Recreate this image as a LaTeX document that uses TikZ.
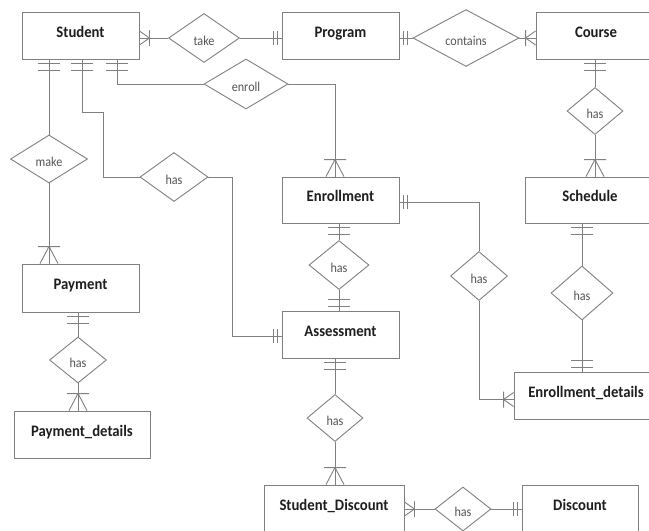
\documentclass[tikz,border=0pt]{standalone}
\usepackage{fontspec}
\setmainfont{Carlito}
\usetikzlibrary{shapes.geometric,arrows.meta}
\definecolor{lncol}{HTML}{808080}
\definecolor{enttext}{HTML}{1E1E1E}
\definecolor{reltext}{HTML}{555555}
% crow's foot with bar, horizontal connectors
\pgfdeclarearrow{
  name=CFh,
  setup code={
    \pgfarrowssettipend{0pt}
    \pgfarrowssetlineend{0pt}
    \pgfarrowssetbackend{-11pt}
    \pgfarrowshullpoint{0pt}{8pt}
    \pgfarrowshullpoint{-11pt}{8pt}
    \pgfarrowshullpoint{-11pt}{-8pt}
    \pgfarrowshullpoint{0pt}{-8pt}
  },
  drawing code={
    \pgfsetroundjoin
    \pgfpathmoveto{\pgfqpoint{0pt}{7pt}}
    \pgfpathlineto{\pgfqpoint{-10pt}{0pt}}
    \pgfpathlineto{\pgfqpoint{0pt}{-7pt}}
    \pgfpathmoveto{\pgfqpoint{-10pt}{8pt}}
    \pgfpathlineto{\pgfqpoint{-10pt}{-8pt}}
    \pgfusepathqstroke
  },
}
% crow's foot with bar, vertical connectors
\pgfdeclarearrow{
  name=CFv,
  setup code={
    \pgfarrowssettipend{0pt}
    \pgfarrowssetlineend{0pt}
    \pgfarrowssetbackend{-18pt}
    \pgfarrowshullpoint{0pt}{11pt}
    \pgfarrowshullpoint{-18pt}{11pt}
    \pgfarrowshullpoint{-18pt}{-11pt}
    \pgfarrowshullpoint{0pt}{-11pt}
  },
  drawing code={
    \pgfsetroundjoin
    \pgfpathmoveto{\pgfqpoint{0pt}{9pt}}
    \pgfpathlineto{\pgfqpoint{-17pt}{0pt}}
    \pgfpathlineto{\pgfqpoint{0pt}{-9pt}}
    \pgfpathmoveto{\pgfqpoint{-17pt}{11pt}}
    \pgfpathlineto{\pgfqpoint{-17pt}{-11pt}}
    \pgfusepathqstroke
  },
}
% double bar, horizontal connectors
\pgfdeclarearrow{
  name=DBh,
  setup code={
    \pgfarrowssettipend{0pt}
    \pgfarrowssetlineend{0pt}
    \pgfarrowssetbackend{-9pt}
    \pgfarrowshullpoint{0pt}{7pt}
    \pgfarrowshullpoint{-9pt}{7pt}
    \pgfarrowshullpoint{-9pt}{-7pt}
    \pgfarrowshullpoint{0pt}{-7pt}
  },
  drawing code={
    \pgfpathmoveto{\pgfqpoint{-4pt}{7pt}}
    \pgfpathlineto{\pgfqpoint{-4pt}{-7pt}}
    \pgfpathmoveto{\pgfqpoint{-8pt}{7pt}}
    \pgfpathlineto{\pgfqpoint{-8pt}{-7pt}}
    \pgfusepathqstroke
  },
}
% double bar, vertical connectors
\pgfdeclarearrow{
  name=DBv,
  setup code={
    \pgfarrowssettipend{0pt}
    \pgfarrowssetlineend{0pt}
    \pgfarrowssetbackend{-12pt}
    \pgfarrowshullpoint{0pt}{11pt}
    \pgfarrowshullpoint{-12pt}{11pt}
    \pgfarrowshullpoint{-12pt}{-11pt}
    \pgfarrowshullpoint{0pt}{-11pt}
  },
  drawing code={
    \pgfpathmoveto{\pgfqpoint{-4pt}{11pt}}
    \pgfpathlineto{\pgfqpoint{-4pt}{-11pt}}
    \pgfpathmoveto{\pgfqpoint{-11pt}{11pt}}
    \pgfpathlineto{\pgfqpoint{-11pt}{-11pt}}
    \pgfusepathqstroke
  },
}
\newcommand{\entfont}{\fontsize{16}{18}\selectfont\bfseries}
\newcommand{\relfont}{\fontsize{13.5}{15}\selectfont}
\tikzset{
  entity/.style={draw=lncol, line width=0.9pt, rectangle, minimum height=47, inner sep=0pt,
    font=\entfont, text=enttext, text height=8pt, text depth=4.7pt},
  rel/.style={draw=lncol, line width=0.9pt, diamond, aspect=1, inner sep=0pt,
    font=\relfont, text=reltext, text height=15.5pt, text depth=0pt},
  conn/.style={draw=lncol, line width=0.9pt},
}
\newcommand{\ent}[1]{\scalebox{0.92}[1]{#1}}
\newcommand{\rl}[1]{\scalebox{0.9}[1]{#1}}
\begin{document}
\begin{tikzpicture}[x=1pt,y=-1pt]
\useasboundingbox (0,0) rectangle (649,531);
\fill[white] (0,0) rectangle (649,531);
\clip (0,0) rectangle (649,531);
% entities
\node[entity, minimum width=117] (student) at (80.5,35.5) {\ent{Student}};
\node[entity, minimum width=117] (program) at (340.5,35.5) {\ent{Program}};
\node[entity, minimum width=120] (course) at (596,35.5) {\ent{Course}};
\node[entity, minimum width=117, minimum height=46] (enrollment) at (340.5,200) {\ent{Enrollment}};
\node[entity, minimum width=130, minimum height=46] (schedule) at (590,200) {\ent{Schedule}};
\node[entity, minimum width=117, minimum height=48] (payment) at (80.5,288) {\ent{Payment}};
\node[entity, minimum width=117] (assessment) at (340.5,334.5) {\ent{Assessment}};
\node[entity, minimum width=136] (paydet) at (82,434.5) {\ent{Payment\_details}};
\node[entity, minimum width=144] (enrdet) at (586,395.5) {\ent{Enrollment\_details}};
\node[entity, minimum width=140] (studisc) at (334,508.5) {\ent{Student\_Discount}};
\node[entity, minimum width=116] (discount) at (580,508.5) {\ent{Discount}};
% relationships
\node[rel, minimum width=71, minimum height=49] (take) at (204,38) {\rl{take}};
\node[rel, minimum width=106, minimum height=48] (contains) at (466,38) {\rl{contains}};
\node[rel, minimum width=84, minimum height=50] (enroll) at (246,84) {\rl{enroll}};
\node[rel, minimum width=77, minimum height=48] (make) at (49,159) {\rl{make}};
\node[rel, minimum width=68, minimum height=49] (hasA) at (174,177) {\rl{has}};
\node[rel, minimum width=56, minimum height=47] (hasB) at (595,111) {\rl{has}};
\node[rel, minimum width=60, minimum height=49] (hasC) at (339,265) {\rl{has}};
\node[rel, minimum width=57, minimum height=49] (hasD) at (479,276) {\rl{has}};
\node[rel, minimum width=62, minimum height=54] (hasE) at (582,293) {\rl{has}};
\node[rel, minimum width=57, minimum height=46] (hasF) at (78,360) {\rl{has}};
\node[rel, minimum width=56, minimum height=47] (hasG) at (335,418) {\rl{has}};
\node[rel, minimum width=56, minimum height=44] (hasH) at (463,509) {\rl{has}};
% bend points
\coordinate (sa1) at (103,112);
\coordinate (sa2) at (232,336);
% connectors
\draw[conn, CFh-] (take.west -| student.east) -- (take.west);
\draw[conn, -DBh] (take.east) -- (take.east -| program.west);
\draw[conn, DBh-] (contains.west -| program.east) -- (contains.west);
\draw[conn, -CFh] (contains.east) -- (contains.east -| course.west);
\draw[conn, DBv-] (make.north |- student.south) -- (make.north);
\draw[conn, -CFv] (make.south) -- (make.south |- payment.north);
\draw[conn, DBv-] ([xshift=1.5pt]student.south) |- (sa1) |- (hasA.west);
\draw[conn, -DBh] (hasA.east) -| (sa2) -- (sa2 -| assessment.west);
\draw[conn, DBv-] ([xshift=36.5pt]student.south) |- (enroll.west);
\draw[conn, -CFv] (enroll.east) -| ([xshift=-5.5pt]enrollment.north);
\draw[conn, DBv-] (hasB.north |- course.south) -- (hasB.north);
\draw[conn, -CFv] (hasB.south) -- (hasB.south |- schedule.north);
\draw[conn, DBv-] (hasC.north |- enrollment.south) -- (hasC.north);
\draw[conn, -DBv] (hasC.south) -- (hasC.south |- assessment.north);
\draw[conn, DBh-] ([yshift=-2pt]enrollment.east) -| (hasD.north);
\draw[conn, -CFh] (hasD.south) |- ([yshift=-4pt]enrdet.west);
\draw[conn, DBv-] (hasE.north |- schedule.south) -- (hasE.north);
\draw[conn, -DBv] (hasE.south) -- (hasE.south |- enrdet.north);
\draw[conn, DBv-] (hasF.north |- payment.south) -- (hasF.north);
\draw[conn, -CFv] (hasF.south) -- (hasF.south |- paydet.north);
\draw[conn, DBv-] (hasG.north |- assessment.south) -- (hasG.north);
\draw[conn, -CFv] (hasG.south) -- (hasG.south |- studisc.north);
\draw[conn, CFh-] (hasH.west -| studisc.east) -- (hasH.west);
\draw[conn, -DBh] (hasH.east) -- (hasH.east -| discount.west);
\end{tikzpicture}
\end{document}
